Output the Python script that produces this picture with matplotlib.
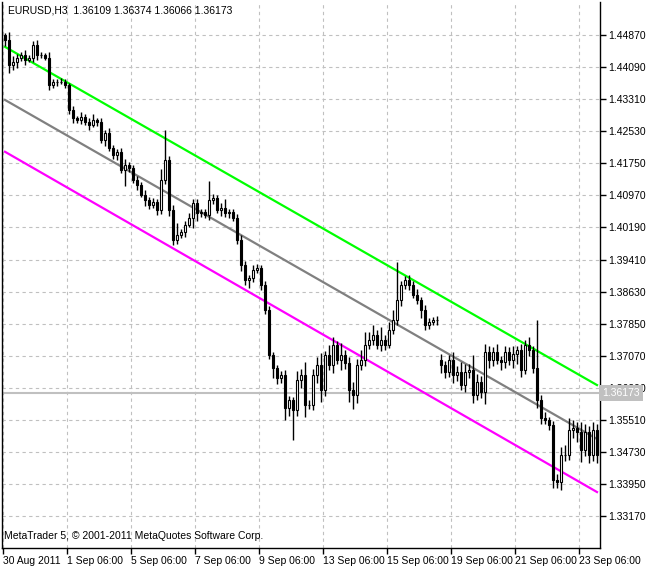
import matplotlib
matplotlib.use("Agg")
import matplotlib.pyplot as plt
import numpy as np

plt.rcParams['font.family'] = ['Liberation Sans', 'DejaVu Sans']

# closes in pips above 1.3000
closes = [1475,1414,1421,1431,1438,1426,1431,1463,1438,1438,1431,1365,1373,1373,1373,1365,
          1305,1285,1280,1288,1276,1268,1280,1276,1232,1249,1212,1195,1203,1159,1171,1164,
          1135,1122,1098,1086,1074,1081,1062,1135,1183,1062,989,1001,1008,1025,1042,1079,
          1054,1057,1050,1086,1091,1062,1067,1054,1057,1042,989,928,892,896,916,921,879,819,
          709,678,653,661,581,600,576,649,661,588,588,661,685,624,709,685,734,697,709,690,
          624,612,685,697,734,746,758,734,746,734,770,794,843,879,892,879,855,843,819,782,
          790,794,794,685,668,697,661,668,636,668,673,612,644,619,717,697,717,697,692,717,
          697,712,722,673,734,722,678,600,556,551,539,406,401,466,466,527,532,522,478,522,
          466,527,466]
first_open = 1487
gap_opens = {109: 697}
wick_up = [5,20,15,10,8,12,6,10,12,8,6,15,8,6,10,8,
           5,10,6,12,6,8,14,6,10,8,12,8,6,10,14,8,
           6,10,8,12,6,10,8,25,73,10,12,30,8,10,12,8,
           10,6,8,45,10,8,12,20,8,6,10,12,10,8,12,10,8,10,
           10,8,6,10,12,10,8,20,15,30,12,15,20,30,10,25,20,10,30,12,
           15,20,15,25,30,20,25,12,30,12,20,25,92,10,8,12,10,15,8,12,
           10,8,10,15,10,12,20,15,25,20,15,35,20,15,20,15,12,20,10,15,
           12,18,10,15,12,20,10,116,12,15,8,10,15,20,25,30,20,15,25,
           20,15,20,15,15]
wick_dn = [15,20,12,15,8,12,6,10,12,8,6,12,8,10,6,8,
           10,12,6,10,8,12,6,10,8,15,6,10,12,8,40,10,
           8,12,6,15,10,8,12,10,10,15,12,10,8,12,6,25,
           20,10,8,12,10,8,15,10,12,8,10,15,12,20,10,8,12,10,
           10,25,15,12,30,20,73,15,20,30,10,12,20,30,15,12,20,10,25,15,
           30,35,20,12,15,10,12,10,15,12,8,10,12,15,10,12,8,10,20,12,
           10,8,12,20,15,12,20,15,12,18,15,20,12,15,30,20,15,10,20,15,
           12,20,25,18,10,15,12,20,15,10,12,20,15,20,15,12,20,25,
           30,15,20,15,20,15]

green_line = (1458, 636)
gray_line = (1329, 505)
magenta_line = (1203, 376)

ytick_vals = [1.33170,1.33950,1.34730,1.35510,1.36290,1.37070,1.37850,1.38630,
              1.39410,1.40190,1.40970,1.41750,1.42530,1.43310,1.44090,1.44870]
xtick_labels = ["30 Aug 2011","1 Sep 06:00","5 Sep 06:00","7 Sep 06:00","9 Sep 06:00",
                "13 Sep 06:00","15 Sep 06:00","19 Sep 06:00","21 Sep 06:00","23 Sep 06:00"]
current_price = 1.36173
header = "EURUSD,H3  1.36109 1.36374 1.36066 1.36173"
footer = "MetaTrader 5, © 2001-2011 MetaQuotes Software Corp."

n = len(closes)
C = 1.3 + np.array(closes) / 10000.0
O = np.empty(n)
O[0] = 1.3 + first_open / 10000.0
O[1:] = C[:-1]
for k, v in gap_opens.items():
    O[k] = 1.3 + v / 10000.0
H = np.maximum(O, C) + np.array(wick_up[:n]) / 10000.0
L = np.minimum(O, C) - np.array(wick_dn[:n]) / 10000.0

fig = plt.figure(figsize=(6.53, 5.69), dpi=100)
ax = fig.add_axes([2/653, 21/569, 598/653, 546/569])
idx = np.arange(n)
ax.vlines(idx, L, H, color="black", linewidth=1, zorder=3)
bull = C >= O
bot = np.minimum(O, C)
hgt = np.maximum(np.abs(C - O), 0.00005)
ax.bar(idx[bull], hgt[bull], bottom=bot[bull], width=0.72, facecolor="white",
       edgecolor="black", linewidth=0.8, zorder=4)
ax.bar(idx[~bull], hgt[~bull], bottom=bot[~bull], width=0.72, facecolor="black",
       edgecolor="black", linewidth=0.8, zorder=4)

for (a, b), col in [(green_line, "#00ff00"), (gray_line, "#808080"), (magenta_line, "#ff00ff")]:
    ax.plot([0, n - 1], [1.3 + a / 10000.0, 1.3 + b / 10000.0], color=col, linewidth=1.6, zorder=2)

ax.axhline(current_price, color="#c0c0c0", linewidth=1.5, zorder=1)

ax.set_xlim(-0.75, 148.75)
ax.set_ylim(1.3240, 1.4567)
ax.set_xticks([-0.5 + 16 * k for k in range(len(xtick_labels))])
ax.set_xticklabels(xtick_labels, ha="left", fontsize=7.5)
ax.set_yticks(ytick_vals)
ax.set_yticklabels([f"{v:.5f}" for v in ytick_vals], fontsize=7.5)
ax.yaxis.tick_right()
ax.tick_params(axis="both", length=4, width=1, color="black", pad=2)
ax.grid(True, color="#c0c0c0", linestyle=(0, (3, 3)), linewidth=0.8)
ax.set_axisbelow(True)
ax.spines["top"].set_visible(False)
for s in ["left", "bottom", "right"]:
    ax.spines[s].set_linewidth(1)

ax.text(1.004, current_price, f"{current_price:.5f}", transform=ax.get_yaxis_transform(),
        fontsize=7.5, color="white", va="center", ha="left",
        bbox=dict(boxstyle="square,pad=0.3", facecolor="#c0c0c0", edgecolor="none"), zorder=10)
ax.text(0.01, 0.993, header, transform=ax.transAxes, fontsize=7.5, va="top", ha="left")
ax.text(0.003, 0.012, footer, transform=ax.transAxes, fontsize=7.5, va="bottom", ha="left")

fig.savefig("out.png", dpi=100)
